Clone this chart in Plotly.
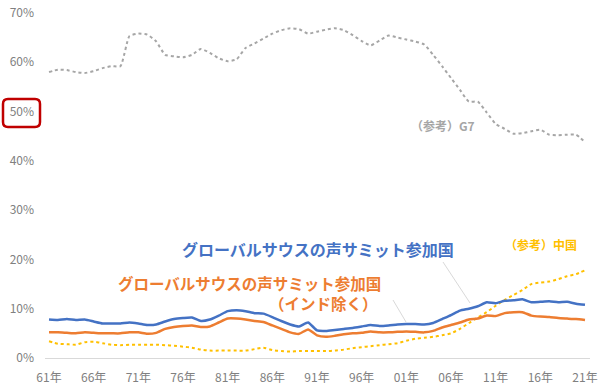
import plotly.graph_objects as go

years = list(range(1961, 2022))

g7 = [58.0, 58.5, 58.4, 58.0, 57.8, 58.2, 58.8, 59.2, 59.2, 65.3,
      65.8, 65.6, 64.2, 61.5, 61.2, 61.0, 61.5, 62.7, 61.9, 60.8,
      60.2, 60.6, 62.9, 63.8, 64.8, 65.8, 66.5, 66.9, 66.7, 65.8,
      66.2, 66.6, 66.9, 66.5, 65.5, 64.3, 63.4, 64.4, 65.4, 65.0,
      64.6, 64.2, 63.6, 61.5, 59.2, 56.8, 54.4, 52.0, 52.0, 49.8,
      47.5, 46.5, 45.5, 45.6, 46.0, 46.3, 45.3, 45.2, 45.3, 45.3, 43.8]

summit = [7.8, 7.7, 7.9, 7.7, 7.8, 7.4, 7.0, 7.0, 7.0, 7.2,
          7.0, 6.7, 6.8, 7.4, 7.9, 8.1, 8.2, 7.5, 7.8, 8.6,
          9.5, 9.7, 9.5, 9.1, 9.0, 8.3, 7.5, 6.8, 6.4, 7.2,
          5.6, 5.5, 5.7, 5.9, 6.1, 6.4, 6.7, 6.5, 6.6, 6.8,
          6.9, 6.9, 6.8, 7.1, 7.9, 8.7, 9.6, 10.0, 10.5, 11.3,
          11.1, 11.6, 11.7, 11.9, 11.3, 11.4, 11.5, 11.3, 11.4, 11.0, 10.8]

summit_ex_india = [5.2, 5.2, 5.1, 5.0, 5.2, 5.1, 5.0, 5.0, 5.0, 5.2,
                   5.2, 4.9, 5.1, 5.9, 6.3, 6.5, 6.6, 6.3, 6.4, 7.2,
                   8.0, 8.0, 7.8, 7.5, 7.3, 6.6, 5.9, 5.2, 4.9, 5.8,
                   4.6, 4.3, 4.5, 4.8, 5.0, 5.1, 5.4, 5.2, 5.2, 5.3,
                   5.4, 5.3, 5.2, 5.5, 6.2, 6.7, 7.2, 7.8, 8.0, 8.6,
                   8.5, 9.1, 9.3, 9.3, 8.6, 8.4, 8.3, 8.1, 8.0, 7.9, 7.7]

china = [3.4, 2.9, 2.8, 2.7, 3.2, 3.3, 3.0, 2.7, 2.6, 2.7,
         2.7, 2.7, 2.7, 2.6, 2.5, 2.3, 2.1, 1.7, 1.5, 1.5,
         1.5, 1.5, 1.5, 1.8, 2.1, 1.6, 1.4, 1.3, 1.4, 1.4,
         1.4, 1.4, 1.5, 1.7, 2.0, 2.2, 2.4, 2.6, 2.8, 3.0,
         3.5, 3.9, 4.1, 4.3, 4.6, 5.0, 5.9, 7.1, 8.2, 9.3,
         10.6, 11.8, 12.8, 13.8, 15.0, 15.3, 15.5, 16.0, 16.6, 17.0, 17.8]

x_tick_vals = list(range(1961, 2022, 5))
x_tick_text = [f"{y % 100:02d}年" for y in x_tick_vals]
y_tick_vals = [0, 10, 20, 30, 40, 50, 60, 70]
y_tick_text = [f"{v}%" for v in y_tick_vals]

FONT = "Noto Sans CJK JP, Noto Sans, sans-serif"
BLUE = "#4472C4"
ORANGE = "#ED7D31"
YELLOW = "#FFC000"
GRAY = "#A6A6A6"

fig = go.Figure()
fig.add_trace(go.Scatter(x=years, y=g7, mode="lines", hoverinfo="skip",
                         line=dict(color=GRAY, width=2, dash="dot", shape="spline", smoothing=0.5)))
fig.add_trace(go.Scatter(x=years, y=china, mode="lines", hoverinfo="skip",
                         line=dict(color=YELLOW, width=2, dash="dot", shape="spline", smoothing=0.5)))
fig.add_trace(go.Scatter(x=years, y=summit_ex_india, mode="lines", hoverinfo="skip",
                         line=dict(color=ORANGE, width=2.5, shape="spline", smoothing=0.5)))
fig.add_trace(go.Scatter(x=years, y=summit, mode="lines", hoverinfo="skip",
                         line=dict(color=BLUE, width=2.5, shape="spline", smoothing=0.5)))

L, R, T, B = 45, 10, 8, 30
W, H = 600, 388
PW, PH = W - L - R, H - T - B


def px2paper(px, py):
    return (px - L) / PW, (H - B - py) / PH


# rounded red box around the 50% tick label
x0, y0 = px2paper(3, 99)
x1, y1 = px2paper(40, 127)
rx = 5 / PW
ry = 5 / PH
path = (f"M {x0+rx},{y0} L {x1-rx},{y0} Q {x1},{y0} {x1},{y0-ry} "
        f"L {x1},{y1+ry} Q {x1},{y1} {x1-rx},{y1} L {x0+rx},{y1} "
        f"Q {x0},{y1} {x0},{y1+ry} L {x0},{y0-ry} Q {x0},{y0} {x0+rx},{y0} Z")
fig.add_shape(type="path", path=path, xref="paper", yref="paper",
              line=dict(color="#C00000", width=2.5))

# faint leader lines
for (ax, ay, bx, by) in [(443, 262, 470, 303), (393, 300, 406, 322)]:
    a = px2paper(ax, ay)
    b = px2paper(bx, by)
    fig.add_shape(type="line", xref="paper", yref="paper",
                  x0=a[0], y0=a[1], x1=b[0], y1=b[1],
                  line=dict(color="#D9D9D9", width=1))

fig.add_annotation(x=2005.1, y=47.1, text="（参考）G7", showarrow=False,
                   font=dict(family=FONT, size=12, color=GRAY, weight="bold"))
fig.add_annotation(x=2016.1, y=23.1, text="（参考）中国", showarrow=False,
                   font=dict(family=FONT, size=12, color=YELLOW, weight="bold"))
fig.add_annotation(x=1991.1, y=22.1, text="グローバルサウスの声サミット参加国", showarrow=False,
                   font=dict(family=FONT, size=16, color=BLUE, weight="bold"))
fig.add_annotation(x=1998.4, xanchor="right", y=15.3,
                   text="グローバルサウスの声サミット参加国", showarrow=False,
                   font=dict(family=FONT, size=15.5, color=ORANGE, weight="bold"))
fig.add_annotation(x=1998.0, xanchor="right", y=11.2,
                   text="（インド除く）", showarrow=False,
                   font=dict(family=FONT, size=15.5, color=ORANGE, weight="bold"))

fig.update_layout(
    width=W, height=H,
    margin=dict(l=L, r=R, t=T, b=B, autoexpand=False),
    paper_bgcolor="white", plot_bgcolor="white",
    showlegend=False,
    hovermode=False,
    font=dict(family=FONT, size=12, color="#808080"),
)
fig.update_xaxes(range=[1960.55, 2021.56], tickvals=x_tick_vals, ticktext=x_tick_text,
                 showgrid=False, zeroline=False, showline=False, automargin=False,
                 ticklabelstandoff=11,
                 tickfont=dict(size=12, color="#808080"))
fig.update_yaxes(range=[0, 71], tickvals=y_tick_vals, ticktext=y_tick_text,
                 showgrid=False, zeroline=True, zerolinecolor="#D9D9D9", zerolinewidth=1,
                 automargin=False, ticklabelstandoff=10,
                 tickfont=dict(size=12, color="#808080"))

fig.write_html("out.html", config={"displayModeBar": False},
               post_script="document.body.style.margin='0';document.body.style.overflow='hidden';")
